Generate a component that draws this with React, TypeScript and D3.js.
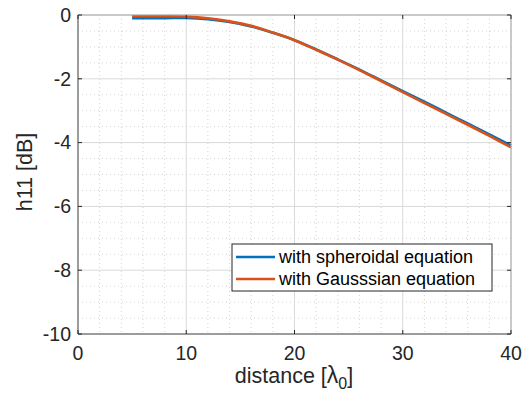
import React from "react";
import * as d3 from "d3";

const distance = [5, 6, 8, 10, 12, 14, 16, 18, 20, 22, 24, 26, 28, 30, 32, 34, 36, 38, 40];
const spheroidal = [-0.1, -0.1, -0.1, -0.09, -0.13, -0.22, -0.36, -0.56, -0.79, -1.08, -1.39, -1.71, -2.05, -2.39, -2.72, -3.06, -3.4, -3.74, -4.09];
const gaussian = [-0.04, -0.04, -0.04, -0.05, -0.1, -0.2, -0.34, -0.55, -0.79, -1.09, -1.4, -1.73, -2.07, -2.42, -2.76, -3.1, -3.44, -3.79, -4.15];
const xTicks = [0, 10, 20, 30, 40];
const yTicks = [0, -2, -4, -6, -8, -10];
const xMinor = [2, 4, 6, 8, 12, 14, 16, 18, 22, 24, 26, 28, 32, 34, 36, 38];
const yMinor = d3.range(-9.5, 0, 0.5).filter((v) => Math.abs(v % 2) > 0.01);
const seriesNames = ["with spheroidal equation", "with Gausssian equation"];
const colors = ["#0072BD", "#D95319"];

export default function App() {
  const W = 523, H = 396;
  const L = 78, R = 511, T = 15, B = 334;
  const x = d3.scaleLinear().domain([0, 40]).range([L, R]);
  const y = d3.scaleLinear().domain([-10, 0]).range([B, T]);
  const font = "Arial, 'Liberation Sans', Helvetica, sans-serif";
  const txt = "#262626";
  const line = d3.line<number>().x((_, i) => x(distance[i])).y((d) => y(d)).curve(d3.curveCatmullRom);
  return (
    <svg width={W} height={H} style={{ position: "absolute", left: 0, top: 0 }} fontFamily={font}>
      <rect x={0} y={0} width={W} height={H} fill="#fff" />
      {xMinor.map((v) => (
        <line key={"xm" + v} x1={x(v)} x2={x(v)} y1={T} y2={B} stroke="#d4d4d4" strokeWidth={1} strokeDasharray="1,3" />
      ))}
      {yMinor.map((v) => (
        <line key={"ym" + v} x1={L} x2={R} y1={y(v)} y2={y(v)} stroke="#d4d4d4" strokeWidth={1} strokeDasharray="1,3" />
      ))}
      {xTicks.map((v) => (
        <line key={"xg" + v} x1={x(v)} x2={x(v)} y1={T} y2={B} stroke="#d9d9d9" strokeWidth={1} />
      ))}
      {yTicks.map((v) => (
        <line key={"yg" + v} x1={L} x2={R} y1={y(v)} y2={y(v)} stroke="#d9d9d9" strokeWidth={1} />
      ))}
      {[spheroidal, gaussian].map((s, k) => (
        <path key={k} d={line(s) || ""} fill="none" stroke={colors[k]} strokeWidth={2.6} />
      ))}
      <line x1={L} x2={R} y1={T} y2={T} stroke="#a6a6a6" strokeWidth={1} />
      <line x1={R} x2={R} y1={T} y2={B} stroke="#a6a6a6" strokeWidth={1} />
      <line x1={L} x2={L} y1={T} y2={B} stroke="#4d4d4d" strokeWidth={1} />
      <line x1={L} x2={R} y1={B} y2={B} stroke="#4d4d4d" strokeWidth={1} />
      {xTicks.map((v) => (
        <g key={"xt" + v}>
          <line x1={x(v)} x2={x(v)} y1={B} y2={B - 4} stroke="#262626" />
          <line x1={x(v)} x2={x(v)} y1={T} y2={T + 4} stroke="#262626" />
          <text x={x(v)} y={360} textAnchor="middle" fontSize={19.5} fill={txt}>{v}</text>
        </g>
      ))}
      {yTicks.map((v) => (
        <g key={"yt" + v}>
          <line x1={L} x2={L + 4} y1={y(v)} y2={y(v)} stroke="#262626" />
          <line x1={R} x2={R - 4} y1={y(v)} y2={y(v)} stroke="#262626" />
          <text x={71} y={y(v)} dy="0.35em" textAnchor="end" fontSize={19.5} fill={txt}>{v}</text>
        </g>
      ))}
      <text x={294} y={383} textAnchor="middle" fontSize={21.5} fill={txt}>
        distance [<tspan fontSize={23}>λ</tspan><tspan fontSize={16} dy={6}>0</tspan><tspan dy={-6}>]</tspan>
      </text>
      <text transform={`translate(32,172) rotate(-90)`} textAnchor="middle" fontSize={21.5} fill={txt}>h11 [dB]</text>
      <g>
        <rect x={232} y={244} width={260} height={47} fill="#fff" stroke="#262626" strokeWidth={1} />
        {seriesNames.map((n, i) => (
          <g key={n}>
            <line x1={236} x2={275} y1={257 + i * 22} y2={257 + i * 22} stroke={colors[i]} strokeWidth={2.6} />
            <text x={279} y={257 + i * 22} dy="0.35em" fontSize={18} fill="#000">{n}</text>
          </g>
        ))}
      </g>
    </svg>
  );
}
